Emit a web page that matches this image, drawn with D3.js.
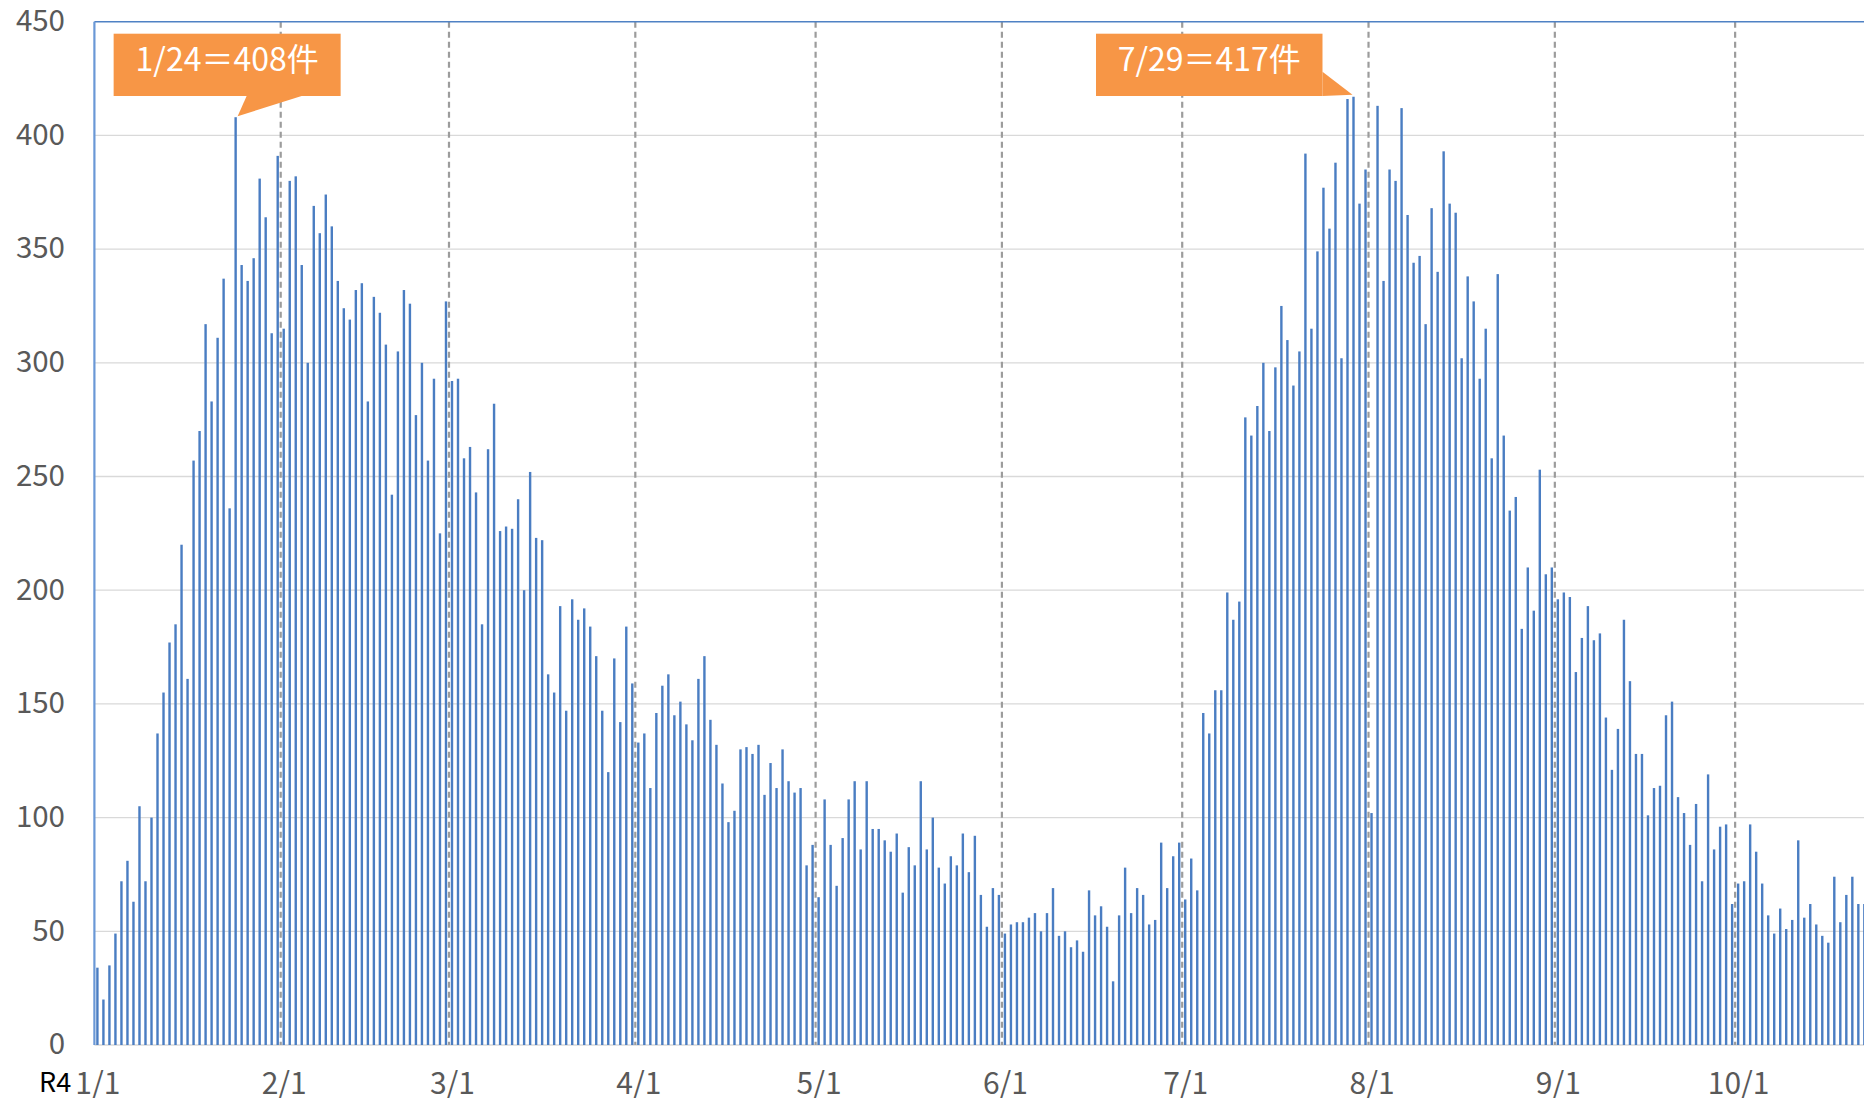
<!DOCTYPE html>
<html><head><meta charset="utf-8">
<script src="https://cdn.jsdelivr.net/npm/d3@7"></script>
<style>
html,body{margin:0;padding:0;background:#fff;}
svg{display:block;}
text{font-family:"Noto Sans CJK JP","Noto Sans",sans-serif;}
</style></head>
<body>
<svg id="chart" width="1864" height="1098"></svg>
<script>
const startDate = "2022-01-01";
const jan = [34,20,35,49,72,81,63,105,72,100,137,155,177,185,220,161,257,270,317,283,311,337,236,408,343,336,346,381,364,313,391];
const feb = [315,380,382,343,300,369,357,374,360,336,324,319,332,335,283,329,322,308,242,305,332,326,277,300,257,293,225,327];
const mar = [292,293,258,263,243,185,262,282,226,228,227,240,200,252,223,222,163,155,193,147,196,187,192,184,171,147,120,170,142,184,159];
const apr = [133,137,113,146,158,163,145,151,141,134,161,171,143,132,115,98,103,130,131,128,132,110,124,113,130,116,111,113,79,88];
const may = [65,108,88,70,91,108,116,86,116,95,95,90,85,93,67,87,79,116,86,100,78,71,83,79,93,76,92,66,52,69,66];
const jun = [49,53,54,54,56,58,50,58,69,48,50,43,46,41,68,57,61,52,28,57,78,58,69,66,53,55,89,69,83,89];
const jul = [64,82,68,146,137,156,156,199,187,195,276,268,281,300,270,298,325,310,290,305,392,315,349,377,359,388,302,416,417,370,385];
const aug = [102,413,336,385,380,412,365,344,347,317,368,340,393,370,366,302,338,327,293,315,258,339,268,235,241,183,210,191,253,207,210];
const sep = [196,199,197,164,179,193,178,181,144,121,139,187,160,128,128,101,113,114,145,151,109,102,88,106,72,119,86,96,97,62];
const oct = [71,72,97,85,71,57,49,60,51,55,90,56,62,53,48,45,74,54,66,74,62,62];

const yTicks = [0,50,100,150,200,250,300,350,400,450];
const monthTicks = ["2022-01-01","2022-02-01","2022-03-01","2022-04-01","2022-05-01","2022-06-01","2022-07-01","2022-08-01","2022-09-01","2022-10-01"];
const monthLabels = ["1/1","2/1","3/1","4/1","5/1","6/1","7/1","8/1","9/1","10/1"];
const eraLabel = "R4";
const notes = [
  {date:"2022-01-24", label:"1/24＝408件"},
  {date:"2022-07-29", label:"7/29＝417件"}
];

(function(){
const parse = d3.utcParse("%Y-%m-%d");
const values = [].concat(jan,feb,mar,apr,may,jun,jul,aug,sep,oct);
const t0 = parse(startDate);
const data = values.map((v,i)=>({date:d3.utcDay.offset(t0,i), value:v}));

const svg = d3.select("#chart");
const W = 1864, H = 1098;
const pLeft = 94.4, pTop = 21.7, pBottom = 1045;
const dayW = 6.01;
const nDays = 295;
const x = d3.scaleUtc().domain([t0, d3.utcDay.offset(t0,nDays)]).range([pLeft, pLeft + nDays*dayW]);
const y = d3.scaleLinear().domain([0,450]).range([pBottom, pTop]);
const fontFam = '"Noto Sans CJK JP","Noto Sans",sans-serif';

svg.append("rect").attr("width",W).attr("height",H).attr("fill","#fff");

svg.append("clipPath").attr("id","plotclip").append("rect")
  .attr("x",pLeft).attr("y",0).attr("width",W-pLeft).attr("height",pBottom+2);

// gridlines
svg.append("g").selectAll("line").data(yTicks.filter(d=>d>0 && d<450)).join("line")
  .attr("x1",pLeft).attr("x2",W).attr("y1",d=>y(d)).attr("y2",d=>y(d))
  .attr("stroke","#d9d9d9").attr("stroke-width",1.3);

// baseline
svg.append("line").attr("x1",pLeft).attr("x2",W).attr("y1",y(0)).attr("y2",y(0))
  .attr("stroke","#d9d9d9").attr("stroke-width",1.3);

// month dashed lines
svg.append("g").selectAll("line").data(monthTicks.slice(1)).join("line")
  .attr("x1",d=>x(parse(d))).attr("x2",d=>x(parse(d)))
  .attr("y1",pTop).attr("y2",pBottom)
  .attr("stroke","#9c9c9c").attr("stroke-width",2.2).attr("stroke-dasharray","6,4");

// bars
const bw = 2.4;
svg.append("g").attr("clip-path","url(#plotclip)").selectAll("rect").data(data).join("rect")
  .attr("x",d=>x(d.date)+dayW/2-bw/2)
  .attr("y",d=>y(d.value))
  .attr("width",bw)
  .attr("height",d=>y(0)-y(d.value))
  .attr("fill","#4a7dc2");

// top border and left axis
svg.append("line").attr("x1",pLeft).attr("x2",W).attr("y1",pTop).attr("y2",pTop)
  .attr("stroke","#4f81c4").attr("stroke-width",1.6);
svg.append("line").attr("x1",pLeft).attr("x2",pLeft).attr("y1",pTop).attr("y2",pBottom)
  .attr("stroke","#6a98d6").attr("stroke-width",2.2);

// y axis labels
const yAxis = d3.axisLeft(y).tickValues(yTicks).tickSize(0).tickPadding(0);
const ya = svg.append("g").attr("transform","translate(65,0)").call(yAxis);
ya.select(".domain").remove();
ya.selectAll("text").attr("font-size",29.5).attr("fill","#595959").attr("dy","0.3em").style("font-family",fontFam);

// x axis labels
const xa = svg.append("g").attr("transform","translate(0,1083)")
  .call(d3.axisBottom(x).tickValues(monthTicks.map(d=>d3.utcHour.offset(parse(d),12))).tickFormat((d,i)=>monthLabels[i]).tickSize(0).tickPadding(0));
xa.select(".domain").remove();
xa.selectAll("text").attr("font-size",30).attr("fill","#595959").attr("dy","0.35em").style("font-family",fontFam);

svg.append("text").attr("x",39).attr("y",1083).attr("dy","0.35em")
  .attr("font-size",27).attr("fill","#000").text(eraLabel);

// annotations
const noteBoxes = [
  {dx0:-122, dx1:105, wedge:(cx,ty)=>[[cx+2,ty-1],[cx+11,96],[cx+66,96]]},
  {dx0:-257.5, dx1:-31, wedge:(cx,ty)=>[[cx-31,71.7],[cx-31,96],[cx-1,ty-2]]}
];
notes.forEach((n,i)=>{
  const d = data.find(e=>+e.date===+parse(n.date));
  const cx = x(d.date)+dayW/2;
  const ty = y(d.value);
  const b = noteBoxes[i];
  const g = svg.append("g");
  g.append("path").attr("d", d3.line()(b.wedge(cx,ty))+"Z").attr("fill","#f79646");
  g.append("rect").attr("x",cx+b.dx0).attr("y",33.7).attr("width",b.dx1-b.dx0).attr("height",62.3).attr("fill","#f79646");
  g.append("text").attr("x",cx+(b.dx0+b.dx1)/2).attr("y",60).attr("dy","0.35em")
    .attr("text-anchor","middle").attr("font-size",32).attr("fill","#fff").style("font-family",fontFam).text(n.label);
});
})();
</script>
</body></html>
